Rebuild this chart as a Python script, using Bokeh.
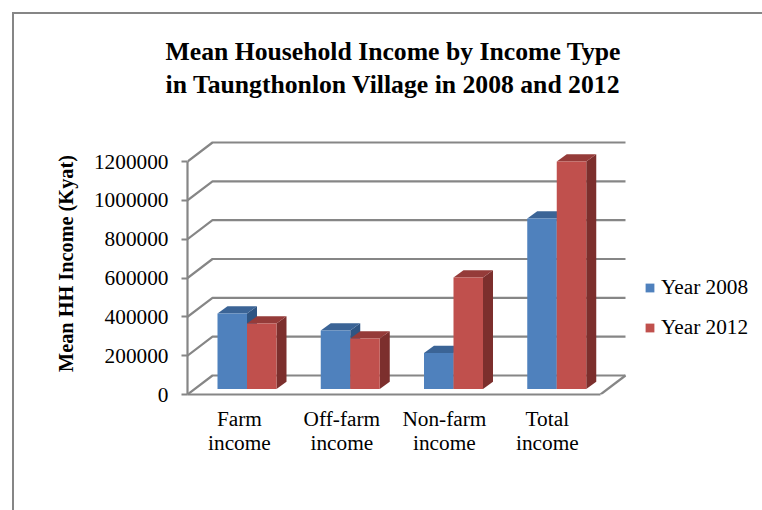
from bokeh.embed import file_html
from bokeh.resources import INLINE
from bokeh.plotting import figure
from bokeh.models import (FixedTicker, InlineStyleSheet, Legend, LegendItem,
                          LinearAxis, Range1d, Title)

title_text = "Mean Household Income by Income Type\nin Taungthonlon Village in 2008 and 2012"
y_title = "Mean HH Income (Kyat)"
categories = ["Farm\nincome", "Off-farm\nincome", "Non-farm\nincome", "Total\nincome"]
series_names = ["Year 2008", "Year 2012"]
year_2008 = [389000, 301000, 185000, 878000]
year_2012 = [337000, 260000, 574000, 1172000]
y_ticks = [0, 200000, 400000, 600000, 800000, 1000000, 1200000]

FONT = "Liberation Serif"
GREY = "#868686"
LABEL_SIZE = "21.3px"

# Pixel layout of the frame and the oblique projection used for the 3-D look
W, H = 762, 510
LEFT, TOP_PX, BOTTOM_PX = 187, 132, 394
PX_PER_CAT = 103.25
PX_PER_VAL = 233 / 1200000

def dx(px):
    return px / PX_PER_CAT

def dy(px):
    return px / PX_PER_VAL

# Chart area border: top and left edges run off the page at the right and bottom
chart_border = InlineStyleSheet(css="""
:host { position: relative; }
:host::before {
  content: ""; position: absolute; left: 12px; top: 12px; right: 0; bottom: 0;
  border-left: 2px solid #868686; border-top: 2px solid #868686;
  pointer-events: none; z-index: 5;
}
""")

p = figure(width=W, height=H, output_backend="svg", toolbar_location=None,
           x_axis_type=None, y_axis_type=None,
           x_range=Range1d(0, dx(W - LEFT)), y_range=Range1d(0, dy(BOTTOM_PX - TOP_PX)),
           min_border_left=LEFT, min_border_right=0, min_border_top=TOP_PX,
           min_border_bottom=H - BOTTOM_PX, background_fill_color="white",
           border_fill_color="white", outline_line_color=None,
           stylesheets=[chart_border])
p.grid.visible = False

# Walls and floor of the 3-D box
DEPTH_X, DEPTH_Y = dx(25), dy(19)
FLOOR_END = len(categories)
for v in y_ticks:
    p.line([0, DEPTH_X, FLOOR_END + DEPTH_X], [v, v + DEPTH_Y, v + DEPTH_Y],
           line_color=GREY, line_width=2.2)
p.line([FLOOR_END, FLOOR_END + DEPTH_X], [0, DEPTH_Y], line_color=GREY, line_width=2.2)

# Bars: a front face plus top and side faces offset along the depth direction
BAR_W = dx(29.5)
BAR_DX, BAR_DY = dx(10), dy(7.3)
BASE = dy(5.5)
FIRST = dx(30)
faces = {}
for s, (vals, front, top, side) in enumerate([
        (year_2008, "#4F81BD", "#3B6496", "#2F5583"),
        (year_2012, "#C0504D", "#953B39", "#7C2F2D")]):
    for i, v in enumerate(vals):
        x0 = FIRST + i + s * BAR_W
        x1 = x0 + BAR_W
        y1 = BASE + v
        p.patch([x1, x1 + BAR_DX, x1 + BAR_DX, x1],
                [BASE, BASE + BAR_DY, y1 + BAR_DY, y1], fill_color=side, line_color=None)
        p.patch([x0, x0 + BAR_DX, x1 + BAR_DX, x1],
                [y1, y1 + BAR_DY, y1 + BAR_DY, y1], fill_color=top, line_color=None)
        r = p.patch([x0, x1, x1, x0], [BASE, BASE, y1, y1], fill_color=front, line_color=None)
        faces.setdefault(s, r)

# Value axis on the front left edge, with the rotated title on a tick-free axis beyond it
yaxis = LinearAxis(bounds=(0, 1200000), ticker=FixedTicker(ticks=y_ticks),
                   axis_line_color=GREY, axis_line_width=2.2,
                   major_tick_line_color=GREY, major_tick_line_width=2,
                   major_tick_in=0, major_tick_out=6, minor_tick_line_color=None,
                   major_label_text_font=FONT, major_label_text_font_size=LABEL_SIZE,
                   major_label_text_color="black", major_label_standoff=13)
yaxis.formatter.use_scientific = False
p.add_layout(yaxis, "left")

title_axis = LinearAxis(ticker=FixedTicker(ticks=[]),
                        axis_line_color=None, major_tick_line_color=None,
                        minor_tick_line_color=None, axis_label=y_title,
                        axis_label_text_font=FONT, axis_label_text_font_size="20.3px",
                        axis_label_text_font_style="bold", axis_label_text_color="black",
                        axis_label_standoff=14)
p.add_layout(title_axis, "left")

# Category axis along the front of the floor
tick_pos = [0.503, 1.495, 2.488, 3.485]
xaxis = LinearAxis(bounds=(0, FLOOR_END), ticker=FixedTicker(ticks=tick_pos),
                   major_label_overrides=dict(zip(tick_pos, categories)),
                   axis_line_color=GREY, axis_line_width=2.2,
                   major_tick_line_color=None, minor_tick_line_color=None,
                   major_label_text_font=FONT, major_label_text_font_size=LABEL_SIZE,
                   major_label_text_color="black", major_label_text_line_height=1.0,
                   major_label_standoff=6)
p.add_layout(xaxis, "below")

# Two-line chart title
p.add_layout(Title(text=title_text, align="left", offset=165 - LEFT, standoff=67,
                   text_font=FONT, text_font_size="25.7px", text_font_style="bold",
                   text_color="black", text_line_height=1.15), "above")

legend = Legend(items=[LegendItem(label=n, renderers=[faces[i]]) for i, n in enumerate(series_names)],
                location=(644 - LEFT, BOTTOM_PX - 346 + 6), orientation="vertical",
                background_fill_alpha=0, border_line_color=None, padding=0, margin=0,
                glyph_width=11, glyph_height=11, spacing=15, label_standoff=6,
                label_text_font=FONT, label_text_font_size=LABEL_SIZE, label_text_color="black")
p.add_layout(legend, "center")

open("out.html", "w").write(file_html(p, INLINE))
